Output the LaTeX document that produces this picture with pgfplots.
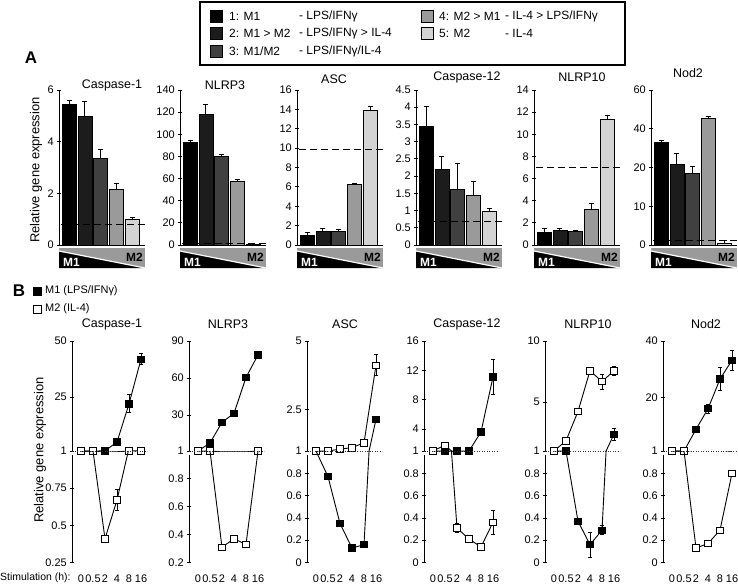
\documentclass[border=0pt]{standalone}
\usepackage{pgfplots}
\pgfplotsset{compat=1.18}
\usepackage{pgfplotstable}
\usepackage{fontspec}
\setmainfont{Liberation Sans}
\definecolor{cA}{HTML}{000000}
\definecolor{cB}{HTML}{1C1C1C}
\definecolor{cC}{HTML}{404040}
\definecolor{cD}{HTML}{9A9A9A}
\definecolor{cE}{HTML}{D3D3D3}
\newcommand{\fs}[1]{\fontsize{#1}{#1}\selectfont}

% ---------- panel B data: x index (0,0.5,2,4,8,16 h), value, error ----------
\pgfplotstableread{
x y e
0 1 0
1 1 0
2 1.05 0
3 5.0 0.5
4 22 4
5 41.9 2.5
}\casIa
\pgfplotstableread{
x y e
0 1 0
1 1.0 0
2 0.41 0.02
3 0.67 0.07
4 1.02 0
5 1.05 0
}\casIb
\pgfplotstableread{
x y e
0 1 0
1 7.5 0
2 24.2 0
3 31.5 1.5
4 60.6 2.5
5 78.7 2
}\nlrpIIIa
\pgfplotstableread{
x y e
0 1 0
1 1.0 0
2 0.31 0
3 0.37 0
4 0.33 0.02
5 1.0 0
}\nlrpIIIb
\pgfplotstableread{
x y e
0 1 0
1 0.77 0
2 0.35 0.03
3 0.13 0.03
4 0.16 0
5 2.15 0
}\asca
\pgfplotstableread{
x y e
0 1 0
1 1.0 0
2 1.07 0
3 1.12 0
4 1.3 0
5 4.12 0.38
}\ascb
\pgfplotstableread{
x y e
0 1 0
1 1 0
2 1 0
3 1 0
4 3.6 0.3
5 11.1 2.4
}\casXIIa
\pgfplotstableread{
x y e
0 1 0
1 1.8 0.4
2 0.31 0.04
3 0.21 0.03
4 0.14 0
5 0.36 0.11
}\casXIIb
\pgfplotstableread{
x y e
0 1 0
1 1.0 0
2 0.37 0
3 0.16 0.11
4 0.29 0.04
5 2.38 0.5
}\nlrpXa
\pgfplotstableread{
x y e
0 1 0
1 1.84 0
2 4.24 0
3 7.57 0.2
4 6.68 0.6
5 7.57 0.35
}\nlrpXb
\pgfplotstableread{
x y e
0 1 0
1 1.0 0
2 8.7 0
3 16.0 1.5
4 26.5 4
5 33.2 3.5
}\noda
\pgfplotstableread{
x y e
0 1 0
1 1.0 0
2 0.13 0
3 0.17 0
4 0.29 0
5 0.80 0
}\nodb

\pgfplotsset{
  base/.style={
    scale only axis, anchor=south west,
    /pgf/number format/assume math mode=true,
    tick label style={font=\fs{11}},
    tick style={black, line width=0.8bp},
    major tick length=3.5bp,
    tick align=outside,
    enlargelimits=false,
  },
  barA/.style={base,
    width=86bp, height=155bp,
    axis lines=left,
    axis line style={-, line width=0.9bp},
    xmin=0.36, xmax=5.8, xtick=\empty, ymin=0,
    ybar, bar width=14bp,
    clip=false,
  },
  bA/.style={fill=#1, draw=black, line width=0.7bp, bar shift=0pt,
    error bars/.cd, y dir=plus, y explicit,
    error bar style={line width=0.9bp, black},
    error mark options={rotate=90, mark size=2.5bp, line width=0.9bp, black}},
  dA/.style={sharp plot, black, line width=1bp, dash pattern=on 7bp off 4bp, forget plot},
  Bup/.style={base, width=76.2bp, height=110bp,
    xmin=-0.75, xmax=5.6,
    axis y line=left, axis x line=none, xtick=\empty,
    axis line style={-, line width=0.9bp},
  },
  Blow/.style={base, width=76.2bp, height=111.5bp,
    xmin=-0.75, xmax=5.6,
    axis y line=left, axis x line=bottom,
    axis line style={-, line width=0.9bp},
    x axis line style={draw=none},
    xtick={0,...,5}, xticklabels={0,0.5,2,4,8,16},
    xtick style={draw=none},
    xticklabel style={anchor=center, yshift=-14bp},
    y axis line style={shorten >=4bp},
  },
  dotB/.style={black!80, line width=0.8bp, dash pattern=on 1.2bp off 1.3bp, no markers, forget plot},
  lineB/.style={black, line width=0.9bp, no markers},
  errB/.style={only marks, mark=none,
    error bars/.cd, y dir=both, y explicit,
    error bar style={line width=0.8bp, black, solid},
    error mark options={rotate=90, mark size=2bp, line width=0.8bp, black}},
  mkA/.style={only marks, mark=square*, mark size=3.2bp, mark options={fill=black, draw=black, line width=0.8bp, solid}},
  mkB/.style={only marks, mark=square*, mark size=3.2bp, mark options={fill=white, draw=black, line width=0.8bp, solid}},
}

\newcommand{\Mbar}{%
  \fill[cD] ([yshift=-2.5bp]rel axis cs:0,0) rectangle ([yshift=-23bp]rel axis cs:1,0);
  \fill[black] ([yshift=-6bp]rel axis cs:0,0) -- ([yshift=-23bp]rel axis cs:0,0) -- ([yshift=-23bp]rel axis cs:1,0) -- cycle;
  \draw[white, line width=1.2bp] ([yshift=-6bp]rel axis cs:0,0) -- ([yshift=-23bp]rel axis cs:1,0);
  \node[anchor=south west, inner sep=1bp, white, font=\fs{12}\bfseries] at ([xshift=3bp,yshift=-23bp]rel axis cs:0,0) {M1};
  \node[anchor=north east, inner sep=1bp, black, font=\fs{12}\bfseries] at ([xshift=-1bp,yshift=-6.5bp]rel axis cs:1,0) {M2};
}

\newcommand{\Bplots}[4]{%
  \addplot[dotB] coordinates {(-0.75,1) (5.5,1)};
  \addplot[lineB] table[x=x,y=y] {#1};
  \addplot[lineB] table[x=x,y=y] {#2};
  \addplot[restrict y to domain=#3:#4, errB] table[x=x,y=y,y error=e] {#1};
  \addplot[restrict y to domain=#3:#4, mkA] table[x=x,y=y] {#1};
  \addplot[restrict y to domain=#3:#4, errB] table[x=x,y=y,y error=e] {#2};
  \addplot[restrict y to domain=#3:#4, mkB] table[x=x,y=y] {#2};
}

\begin{document}
\begin{tikzpicture}
\useasboundingbox (0,0) rectangle (738bp,-585bp);

% ---------------- legend A ----------------
\draw[line width=1.3bp] (200bp,-2bp) rectangle (625bp,-65bp);
\foreach \c/\yy in {cA/16, cB/33.5, cC/51} {
  \filldraw[fill=\c, draw=black, line width=0.6bp] (210bp,-\yy bp+6bp) rectangle (222bp,-\yy bp-6bp);
}
\foreach \c/\yy in {cD/16, cE/33.5} {
  \filldraw[fill=\c, draw=black, line width=0.6bp] (421.5bp,-\yy bp+6bp) rectangle (433.5bp,-\yy bp-6bp);
}
\begin{scope}[every node/.style={anchor=west, inner sep=0pt, font=\fs{12}}]
\node at (229bp,-16bp) {1: M1};
\node at (229bp,-33.5bp) {2: M1 > M2};
\node at (229bp,-51bp) {3: M1/M2};
\node at (299bp,-16bp) {- LPS/IFNγ};
\node at (299bp,-33.5bp) {- LPS/IFNγ > IL-4};
\node at (299bp,-51bp) {- LPS/IFNγ/IL-4};
\node at (439bp,-16bp) {4: M2 > M1};
\node at (439bp,-33.5bp) {5: M2};
\node at (505bp,-16bp) {- IL-4 > LPS/IFNγ};
\node at (505bp,-33.5bp) {- IL-4};
\end{scope}

% panel letters
\node[font=\fs{17}\bfseries] at (31bp,-58bp) {A};
\node[font=\fs{17}\bfseries] at (19bp,-291bp) {B};

% y labels
\node[rotate=90, font=\fs{13}] at (36bp,-170bp) {Relative gene expression};
\node[rotate=90, font=\fs{13}] at (40bp,-450bp) {Relative gene expression};

% panel A titles
\begin{scope}[every node/.style={font=\fs{12.5}}]
\node at (112bp,-85bp) {Caspase-1};
\node at (225bp,-85bp) {NLRP3};
\node at (334bp,-79bp) {ASC};
\node at (467bp,-77bp) {Caspase-12};
\node at (582bp,-77bp) {NLRP10};
\node at (688bp,-73bp) {Nod2};
% panel B titles
\node at (112bp,-324bp) {Caspase-1};
\node at (228bp,-324bp) {NLRP3};
\node at (345bp,-324bp) {ASC};
\node at (467bp,-324bp) {Caspase-12};
\node at (588bp,-324bp) {NLRP10};
\node at (706bp,-324bp) {Nod2};
\end{scope}

% B legend
\filldraw[fill=black, draw=black, line width=0.6bp] (33bp,-287bp) rectangle (41bp,-295bp);
\filldraw[fill=white, draw=black, line width=0.8bp] (33bp,-305bp) rectangle (41bp,-313bp);
\node[anchor=west, inner sep=0pt, font=\fs{11}] at (45bp,-291bp) {M1 (LPS/IFNγ)};
\node[anchor=west, inner sep=0pt, font=\fs{11}] at (45bp,-309bp) {M2 (IL-4)};
\node[anchor=west, inner sep=0pt, font=\fs{10.5}] at (0bp,-578bp) {Stimulation (h):};

% ---------------- panel A ----------------
\begin{axis}[barA, at={(59bp,-245bp)}, ymax=6, ytick={0,2,4,6}]
\addplot[bA=cA] coordinates {(1,5.46) +- (0,0.15)};
\addplot[bA=cB] coordinates {(2,4.97) +- (0,0.58)};
\addplot[bA=cC] coordinates {(3,3.36) +- (0,0.34)};
\addplot[bA=cD] coordinates {(4,2.16) +- (0,0.21)};
\addplot[bA=cE] coordinates {(5,0.99) +- (0,0.08)};
\addplot[dA] coordinates {(0.5,0.79) (5.8,0.79)};
\Mbar
\end{axis}

\begin{axis}[barA, at={(180bp,-245bp)}, ymax=140, ytick={0,20,...,140}]
\addplot[bA=cA] coordinates {(1,92.8) +- (0,1.4)};
\addplot[bA=cB] coordinates {(2,118) +- (0,9)};
\addplot[bA=cC] coordinates {(3,79.8) +- (0,2.1)};
\addplot[bA=cD] coordinates {(4,57.8) +- (0,1.2)};
\addplot[bA=cE] coordinates {(5,0.5) +- (0,0.2)};
\addplot[dA] coordinates {(0.5,1) (5.8,1)};
\Mbar
\end{axis}

\begin{axis}[barA, at={(297bp,-245bp)}, ymax=16, ytick={0,2,...,16}]
\addplot[bA=cA] coordinates {(1,1.04) +- (0,0.23)};
\addplot[bA=cB] coordinates {(2,1.45) +- (0,0.21)};
\addplot[bA=cC] coordinates {(3,1.45) +- (0,0.17)};
\addplot[bA=cD] coordinates {(4,6.22) +- (0,0.13)};
\addplot[bA=cE] coordinates {(5,13.85) +- (0,0.41)};
\addplot[dA] coordinates {(0.5,9.84) (5.8,9.84)};
\Mbar
\end{axis}

\begin{axis}[barA, at={(416bp,-245bp)}, ymax=4.5, ytick={0,0.5,...,4.5}]
\addplot[bA=cA] coordinates {(1,3.45) +- (0,0.58)};
\addplot[bA=cB] coordinates {(2,2.2) +- (0,0.38)};
\addplot[bA=cC] coordinates {(3,1.62) +- (0,0.74)};
\addplot[bA=cD] coordinates {(4,1.44) +- (0,0.41)};
\addplot[bA=cE] coordinates {(5,0.97) +- (0,0.08)};
\addplot[dA] coordinates {(0.5,0.69) (5.8,0.69)};
\Mbar
\end{axis}

\begin{axis}[barA, at={(534bp,-245bp)}, ymax=14, ytick={0,2,...,14}]
\addplot[bA=cA] coordinates {(1,1.12) +- (0,0.33)};
\addplot[bA=cB] coordinates {(2,1.36) +- (0,0.18)};
\addplot[bA=cC] coordinates {(3,1.21) +- (0,0.12)};
\addplot[bA=cD] coordinates {(4,3.23) +- (0,0.49)};
\addplot[bA=cE] coordinates {(5,11.34) +- (0,0.36)};
\addplot[dA] coordinates {(0.5,6.98) (5.8,6.98)};
\Mbar
\end{axis}

\begin{axis}[barA, at={(651bp,-245bp)}, ymax=60,
  y coord trafo/.code={\pgfmathparse{ifthenelse(#1>20,20+(#1-20)/2,#1)}},
  y coord inv trafo/.code={\pgfmathparse{ifthenelse(#1>20,20+2*(#1-20),#1)}},
  ytick={0,10,20,40,60}, yticklabels={0,10,20,40,60}]
\addplot[bA=cA] coordinates {(1,32.8) +- (0,0.5)};
\addplot[bA=cB] coordinates {(2,21.7) +- (0,2.9)};
\addplot[bA=cC] coordinates {(3,18.5) +- (0,1.7)};
\addplot[bA=cD] coordinates {(4,45.4) +- (0,0.5)};
\addplot[bA=cE] coordinates {(5,0.4) +- (0,0.7)};
\addplot[dA] coordinates {(0.5,1.2) (5.8,1.2)};
\Mbar
\end{axis}

% ---------------- panel B ----------------
% Caspase-1
\begin{axis}[Bup, at={(72bp,-451bp)}, ymin=1, ymax=50, ytick={1,25,50}]
\Bplots{\casIa}{\casIb}{0.9999}{1000}
\end{axis}
\begin{axis}[Blow, at={(72bp,-562.5bp)}, ymin=0.25, ymax=1, ytick={0.25,0.5,0.75}]
\Bplots{\casIa}{\casIb}{-1}{0.999}
\end{axis}
% NLRP3
\begin{axis}[Bup, at={(189bp,-451bp)}, ymin=1, ymax=90, ytick={1,30,60,90}]
\Bplots{\nlrpIIIa}{\nlrpIIIb}{0.9999}{1000}
\end{axis}
\begin{axis}[Blow, at={(189bp,-562.5bp)}, ymin=0.2, ymax=1, ytick={0.2,0.4,0.6,0.8}]
\Bplots{\nlrpIIIa}{\nlrpIIIb}{-1}{0.999}
\end{axis}
% ASC
\begin{axis}[Bup, at={(307bp,-451bp)}, ymin=1, ymax=5, ytick={1,2.5,5}]
\Bplots{\asca}{\ascb}{0.9999}{1000}
\end{axis}
\begin{axis}[Blow, at={(307bp,-562.5bp)}, ymin=0, ymax=1, ytick={0,0.2,0.4,0.6,0.8}]
\Bplots{\asca}{\ascb}{-1}{0.999}
\end{axis}
% Caspase-12
\begin{axis}[Bup, at={(424bp,-451bp)}, ymin=1, ymax=16, ytick={1,4,8,12,16}]
\Bplots{\casXIIa}{\casXIIb}{0.9999}{1000}
\end{axis}
\begin{axis}[Blow, at={(424bp,-562.5bp)}, ymin=0, ymax=1, ytick={0,0.2,0.4,0.6,0.8}]
\Bplots{\casXIIa}{\casXIIb}{-1}{0.999}
\end{axis}
% NLRP10
\begin{axis}[Bup, at={(545bp,-451bp)}, ymin=1, ymax=10, ytick={1,5,10}]
\Bplots{\nlrpXa}{\nlrpXb}{0.9999}{1000}
\end{axis}
\begin{axis}[Blow, at={(545bp,-562.5bp)}, ymin=0, ymax=1, ytick={0,0.2,0.4,0.6,0.8}]
\Bplots{\nlrpXa}{\nlrpXb}{-1}{0.999}
\end{axis}
% Nod2
\begin{axis}[Bup, at={(663bp,-451bp)}, ymin=1, ymax=40, ytick={1,20,40}]
\Bplots{\noda}{\nodb}{0.9999}{1000}
\end{axis}
\begin{axis}[Blow, at={(663bp,-562.5bp)}, ymin=0, ymax=1, ytick={0,0.2,0.4,0.6,0.8}]
\Bplots{\noda}{\nodb}{-1}{0.999}
\end{axis}

\end{tikzpicture}
\end{document}
